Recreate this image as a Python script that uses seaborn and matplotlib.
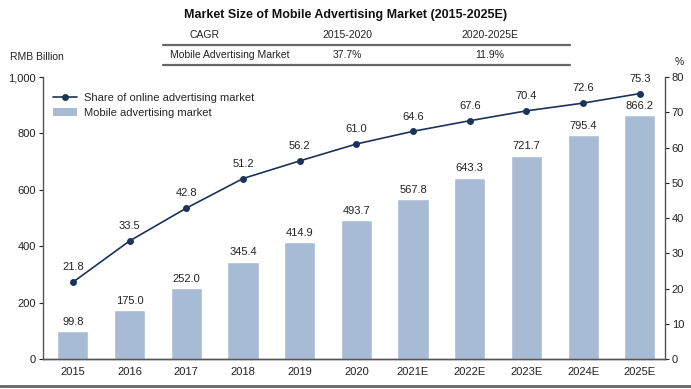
import numpy as np
import seaborn as sns
import matplotlib.pyplot as plt
from matplotlib.lines import Line2D
from matplotlib.patches import Patch
from matplotlib.ticker import FuncFormatter

years = ['2015', '2016', '2017', '2018', '2019', '2020',
         '2021E', '2022E', '2023E', '2024E', '2025E']
market_size = [99.8, 175.0, 252.0, 345.4, 414.9, 493.7,
               567.8, 643.3, 721.7, 795.4, 866.2]
online_share = [21.8, 33.5, 42.8, 51.2, 56.2, 61.0,
                64.6, 67.6, 70.4, 72.6, 75.3]

cagr_header = ['CAGR', '2015-2020', '2020-2025E']
cagr_row = ['Mobile Advertising Market', '37.7%', '11.9%']

bar_color = '#A8BBD4'
line_color = '#1B3358'
text_color = '#222222'

sns.set_theme(style='white')
plt.rcParams['font.family'] = ['Liberation Sans', 'DejaVu Sans']

fig = plt.figure(figsize=(6.91, 3.89), dpi=100)
ax = fig.add_axes([0.062, 0.077, 0.9, 0.725])

sns.barplot(x=years, y=market_size, color=bar_color, width=0.55,
            saturation=1, ax=ax)
for i, v in enumerate(market_size):
    ax.annotate(f'{v:.1f}', (i, v), textcoords='offset points', xytext=(0, 3),
                ha='center', va='bottom', fontsize=8, color=text_color)

ax.set_ylim(0, 1000)
ax.set_yticks(range(0, 1001, 200))
ax.yaxis.set_major_formatter(FuncFormatter(lambda v, p: f'{int(v):,}'))
ax.set_xlim(-0.53, 10.44)

ax2 = ax.twinx()
sns.lineplot(x=np.arange(len(years)), y=online_share, color=line_color,
             marker='o', markersize=5, markeredgewidth=0, linewidth=1.2, ax=ax2)
for i, v in enumerate(online_share):
    ax2.annotate(f'{v:.1f}', (i, v), textcoords='offset points', xytext=(0, 7),
                 ha='center', va='bottom', fontsize=8, color=text_color)
ax2.set_ylim(0, 80)
ax2.set_yticks(range(0, 81, 10))
ax2.set_xlim(-0.53, 10.44)

for a in (ax, ax2):
    a.set_xlabel('')
    a.set_ylabel('')
    a.spines['top'].set_visible(False)
    for s in ('left', 'right', 'bottom'):
        a.spines[s].set_color('#555555')
        a.spines[s].set_linewidth(1)
    a.tick_params(axis='both', labelsize=8, colors=text_color, length=3, width=0.8)
ax.tick_params(axis='y', left=True, right=False, pad=2)
ax.tick_params(axis='x', bottom=False, pad=3)
ax2.tick_params(axis='y', right=True, left=False, pad=2)
ax2.spines['left'].set_visible(False)
ax.spines['right'].set_visible(False)

handles = [Line2D([0], [0], color=line_color, marker='o', markersize=5,
                  markeredgewidth=0, linewidth=1.2),
           Patch(facecolor=bar_color, edgecolor='none')]
ax2.legend(handles, ['Share of online advertising market', 'Mobile advertising market'],
           loc='upper left', bbox_to_anchor=(0.0, 0.98), frameon=False,
           fontsize=8, handlelength=2.2, handletextpad=0.6, labelspacing=0.5)

# title and CAGR table
fig.text(0.5, 0.962, 'Market Size of Mobile Advertising Market (2015-2025E)',
         ha='center', va='center', fontsize=9, fontweight='bold', color='#111111')
col_x = [205 / 691, 347 / 691, 490 / 691]
for x, t in zip(col_x, cagr_header):
    fig.text(x, 1 - 35 / 389, t, ha='center', va='center', fontsize=7.5, color=text_color)
fig.text(170 / 691, 1 - 55 / 389, cagr_row[0], ha='left', va='center',
         fontsize=7.5, color=text_color)
for x, t in zip(col_x[1:], cagr_row[1:]):
    fig.text(x, 1 - 55 / 389, t, ha='center', va='center', fontsize=7.5, color=text_color)
for y in (45, 65):
    fig.add_artist(Line2D([163 / 691, 570 / 691], [1 - y / 389] * 2,
                          color='#666666', linewidth=1.6))
fig.text(10 / 691, 1 - 57 / 389, 'RMB Billion', ha='left', va='center',
         fontsize=7.5, color=text_color)
fig.text(675 / 691, 1 - 62 / 389, '%', ha='left', va='center',
         fontsize=7.5, color=text_color)
fig.add_artist(Line2D([0, 1], [1 - 386 / 389] * 2, color='#666666', linewidth=2))

fig.savefig('out.png', dpi=100)
